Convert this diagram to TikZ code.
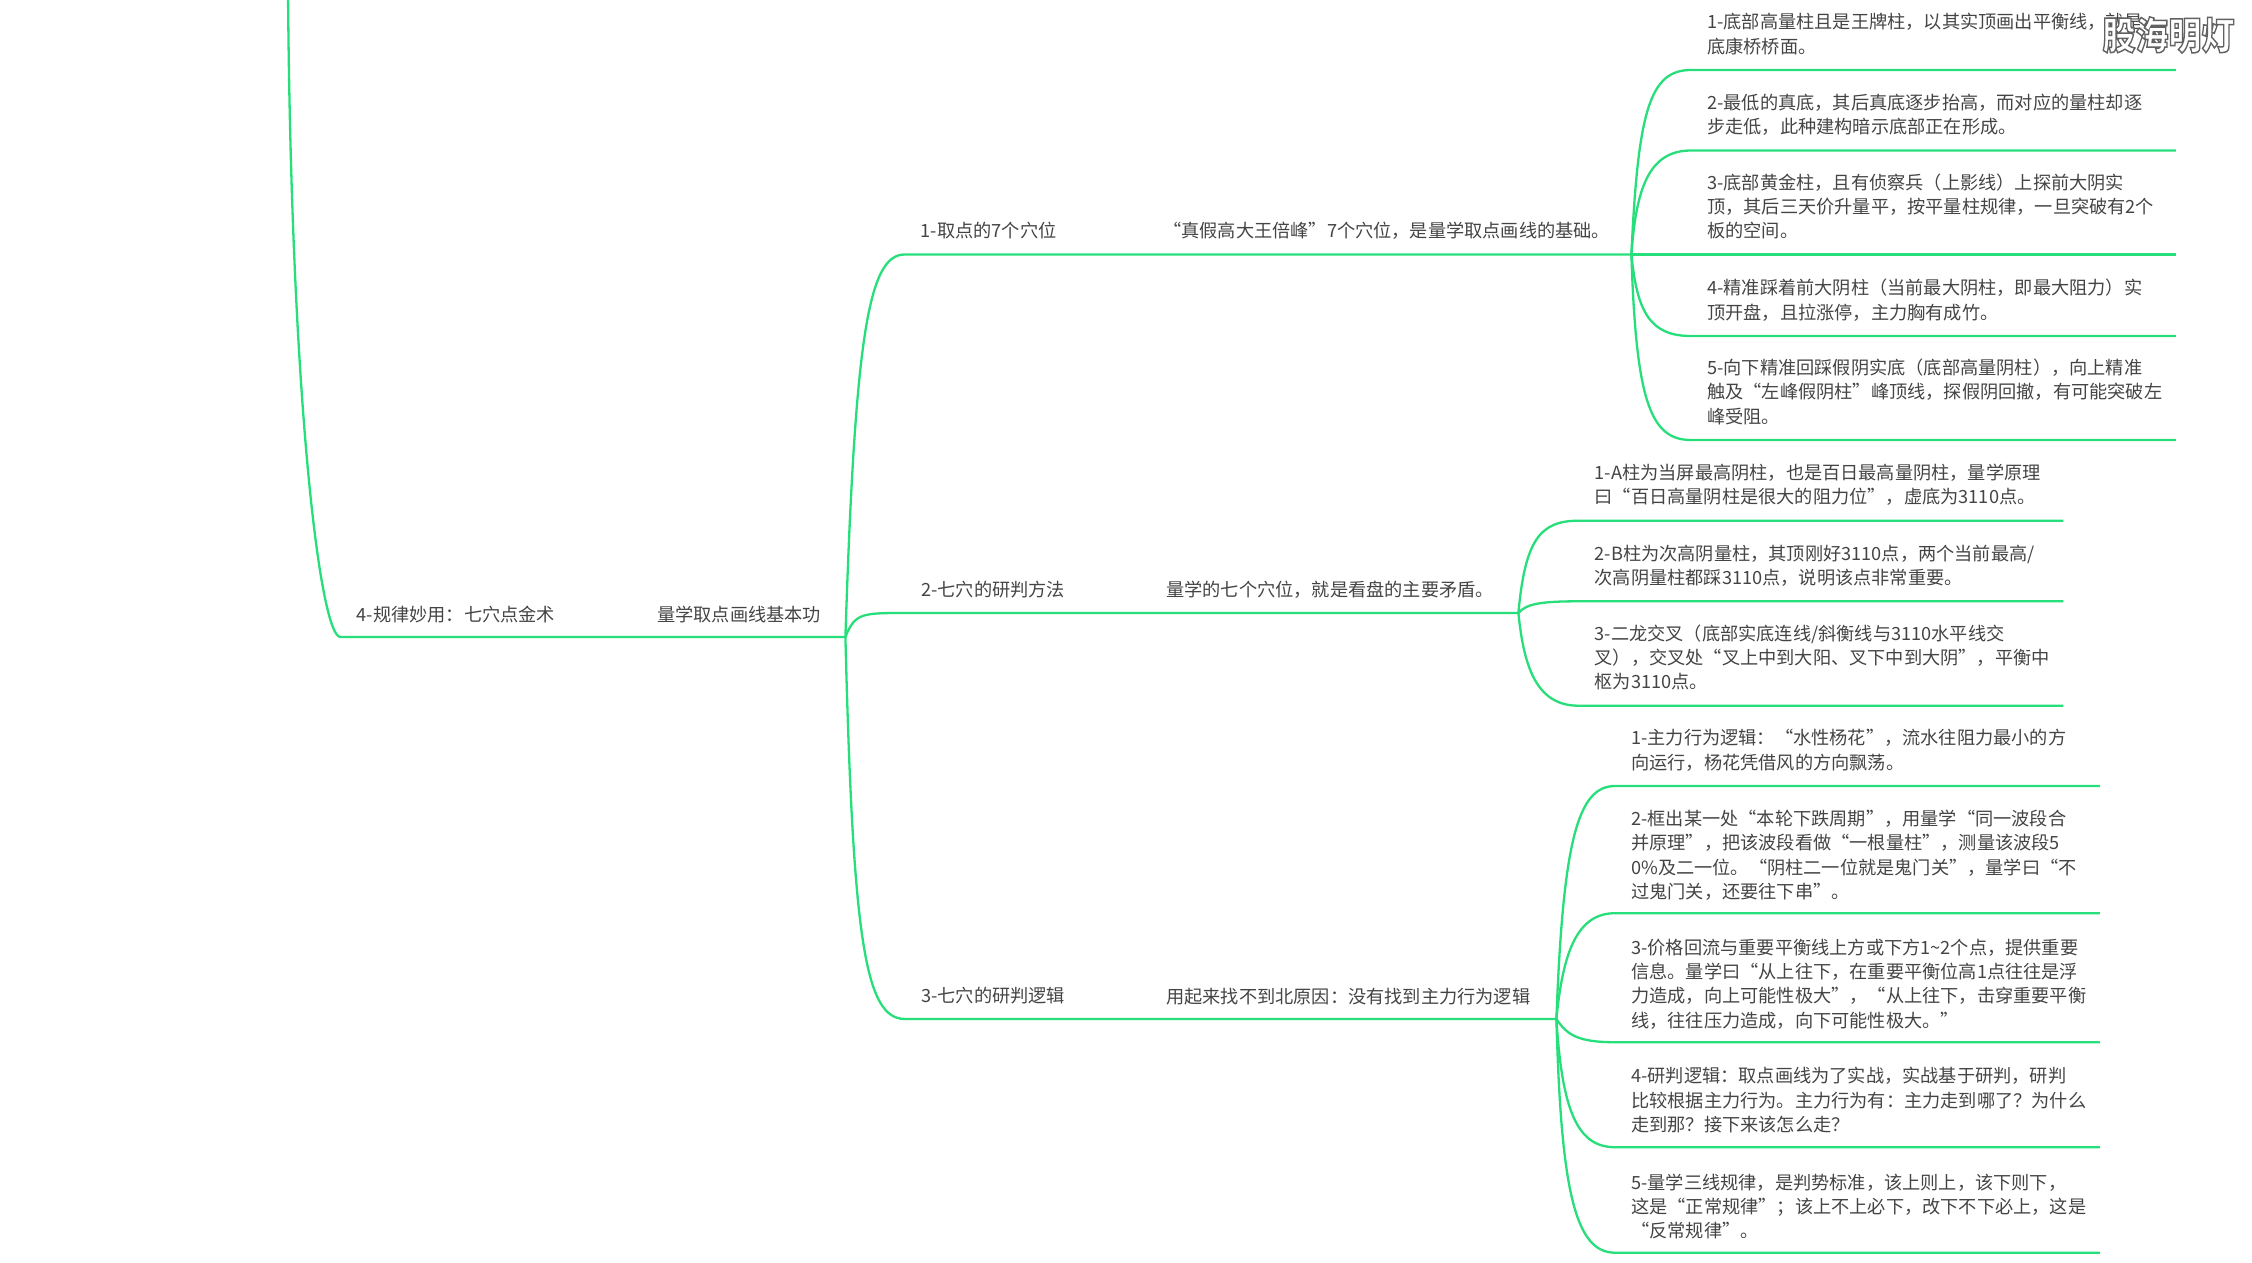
\documentclass[tikz,border=0pt]{standalone}
\usepackage{fontspec}
\setmainfont{Noto Sans CJK SC}
\definecolor{branchgreen}{HTML}{26DE7A}
\definecolor{inkgrey}{HTML}{444444}
\newcommand\zc{\char"FF0C\relax}
\newcommand\zk{\char"FF1A\relax}
\newcommand\zf{\char"FF1B\relax}
\newcommand\zq{\char"FF1F\relax}
\newcommand\zl{\char"FF08\relax}
\newcommand\zr{\char"FF09\relax}
\tikzset{
  x=1pt,y=-1pt,
  conn/.style={draw=branchgreen,line width=2.3pt,line join=round},
  label/.style={anchor=south west,inner xsep=16pt,inner ysep=9.3pt,align=left,
    text=inkgrey,font=\fontsize{18.2}{24.3}\selectfont,execute at end node=\strut},
  leaf/.style={label,text width=452.5pt},
}
\begin{document}
\begin{tikzpicture}
\useasboundingbox (0,0) rectangle (2252,1262);
\coordinate (root) at (288,-10);
% main chain
\node[label,inner ysep=8.3pt,text width=268.5pt] (m1) at (340.5,637) {4-规律妙用\zk 七穴点金术};
\node[label,inner ysep=8.3pt,text width=172pt] (m2) at (641,637) {量学取点画线基本功};
% second level
\node[label,text width=210.5pt] (b1) at (904.5,254.5) {1-取点的7个穴位};
\node[label,text width=452pt] (c1) at (1147,254.5) {“真假高大王倍峰”7个穴位\zc 是量学取点画线的基础。};
\node[label,text width=213pt] (b2) at (905,613) {2-七穴的研判方法};
\node[label,text width=336pt] (c2) at (1150,613) {量学的七个穴位\zc 就是看盘的主要矛盾。};
\node[label,text width=213pt] (b3) at (905,1019) {3-七穴的研判逻辑};
\node[label,inner ysep=8.3pt,text width=374pt] (c3) at (1150,1019) {用起来找不到北原因\zk 没有找到主力行为逻辑};
% leaves group 1
\node[leaf] (a1) at (1691,70) {1-底部高量柱且是王牌柱\zc 以其实顶画出平衡线\zc 就是\\底康桥桥面。};
\node[leaf] (a2) at (1691,150.5) {2-最低的真底\zc 其后真底逐步抬高\zc 而对应的量柱却逐\\步走低\zc 此种建构暗示底部正在形成。};
\node[leaf] (a3) at (1691,254.5) {3-底部黄金柱\zc 且有侦察兵\zl 上影线\zr 上探前大阴实\\顶\zc 其后三天价升量平\zc 按平量柱规律\zc 一旦突破有2个\\板的空间。};
\node[leaf] (a4) at (1691,336) {4-精准踩着前大阴柱\zl 当前最大阴柱\zc 即最大阻力\zr 实\\顶开盘\zc 且拉涨停\zc 主力胸有成竹。};
\node[leaf] (a5) at (1691,440) {5-向下精准回踩假阴实底\zl 底部高量阴柱\zr\zc 向上精准\\触及“左峰假阴柱”峰顶线\zc 探假阴回撤\zc 有可能突破左\\峰受阻。};
% leaves group 2
\node[leaf] (d1) at (1578.5,520.7) {1-A柱为当屏最高阴柱\zc 也是百日最高量阴柱\zc 量学原理\\曰“百日高量阴柱是很大的阻力位”\zc 虚底为3110点。};
\node[leaf] (d2) at (1578.5,601.3) {2-B柱为次高阴量柱\zc 其顶刚好3110点\zc 两个当前最高/\\次高阴量柱都踩3110点\zc 说明该点非常重要。};
\node[leaf] (d3) at (1578.5,705.7) {3-二龙交叉\zl 底部实底连线/斜衡线与3110水平线交\\叉\zr\zc 交叉处“叉上中到大阳、叉下中到大阴”\zc 平衡中\\枢为3110点。};
% leaves group 3
\node[leaf] (e1) at (1615,786) {1-主力行为逻辑\zk “水性杨花”\zc 流水往阻力最小的方\\向运行\zc 杨花凭借风的方向飘荡。};
\node[leaf,inner ysep=7.3pt] (e2) at (1615,913.2) {2-框出某一处“本轮下跌周期”\zc 用量学“同一波段合\\并原理”\zc 把该波段看做“一根量柱”\zc 测量该波段5\\0\%及二一位。“阴柱二一位就是鬼门关”\zc 量学曰“不\\过鬼门关\zc 还要往下串”。};
\node[leaf,inner ysep=7.5pt] (e3) at (1615,1042.2) {3-价格回流与重要平衡线上方或下方1{\char"7E}2个点\zc 提供重要\\信息。量学曰“从上往下\zc 在重要平衡位高1点往往是浮\\力造成\zc 向上可能性极大”\zc “从上往下\zc 击穿重要平衡\\线\zc 往往压力造成\zc 向下可能性极大。”};
\node[leaf,inner ysep=8.3pt] (e4) at (1615,1147.2) {4-研判逻辑\zk 取点画线为了实战\zc 实战基于研判\zc 研判\\比较根据主力行为。主力行为有\zk 主力走到哪了\zq 为什么\\走到那\zq 接下来该怎么走\zq};
\node[leaf,inner ysep=7.5pt] (e5) at (1615,1252.7) {5-量学三线规律\zc 是判势标准\zc 该上则上\zc 该下则下\zc\\这是“正常规律”\zf 该上不上必下\zc 改下不下必上\zc 这是\\“反常规律”。};
% connectors
\draw[conn] (root) .. controls (291,400) and (320,637) .. (m1.south west) -- (m2.south east);
\draw[conn] (m2.south east) .. controls (855,340) and (868,254.5) .. (b1.south west) -- (c1.south east);
\draw[conn] (m2.south east) .. controls (855,613) and (862,613) .. (b2.south west) -- (c2.south east);
\draw[conn] (m2.south east) .. controls (853,940) and (865,1019) .. (b3.south west) -- (c3.south east);
\draw[conn] (c1.south east) .. controls (1638,110) and (1650,70) .. (a1.south west) -- (a1.south east);
\draw[conn] (c1.south east) .. controls (1636,190) and (1648,150.5) .. (a2.south west) -- (a2.south east);
\draw[conn] (c1.south east) -- (a3.south east);
\draw[conn] (c1.south east) .. controls (1637,312) and (1650,336) .. (a4.south west) -- (a4.south east);
\draw[conn] (c1.south east) .. controls (1636,400) and (1650,440) .. (a5.south west) -- (a5.south east);
\draw[conn] (c2.south east) .. controls (1525,540) and (1540,520.7) .. (d1.south west) -- (d1.south east);
\draw[conn] (c2.south east) .. controls (1526,604) and (1540,601.3) .. (d2.south west) -- (d2.south east);
\draw[conn] (c2.south east) .. controls (1524,670) and (1538,705.7) .. (d3.south west) -- (d3.south east);
\draw[conn] (c3.south east) .. controls (1563,840) and (1578,786) .. (e1.south west) -- (e1.south east);
\draw[conn] (c3.south east) .. controls (1563,950) and (1578,913.2) .. (e2.south west) -- (e2.south east);
\draw[conn] (c3.south east) .. controls (1567,1035) and (1578,1042.2) .. (e3.south west) -- (e3.south east);
\draw[conn] (c3.south east) .. controls (1562,1110) and (1577,1147.2) .. (e4.south west) -- (e4.south east);
\draw[conn] (c3.south east) .. controls (1561,1190) and (1575,1252.7) .. (e5.south west) -- (e5.south east);
% watermark
\node[anchor=center,inner sep=0pt,font=\fontsize{33}{33}\selectfont\bfseries,text=white] (wm) at (2168.5,35)
  {\scalebox{1}[1.15]{\special{pdf:code 2 Tr 1.3 w 0.38 0.38 0.38 RG}股海明灯\special{pdf:code 0 Tr}}};
\end{tikzpicture}
\end{document}
